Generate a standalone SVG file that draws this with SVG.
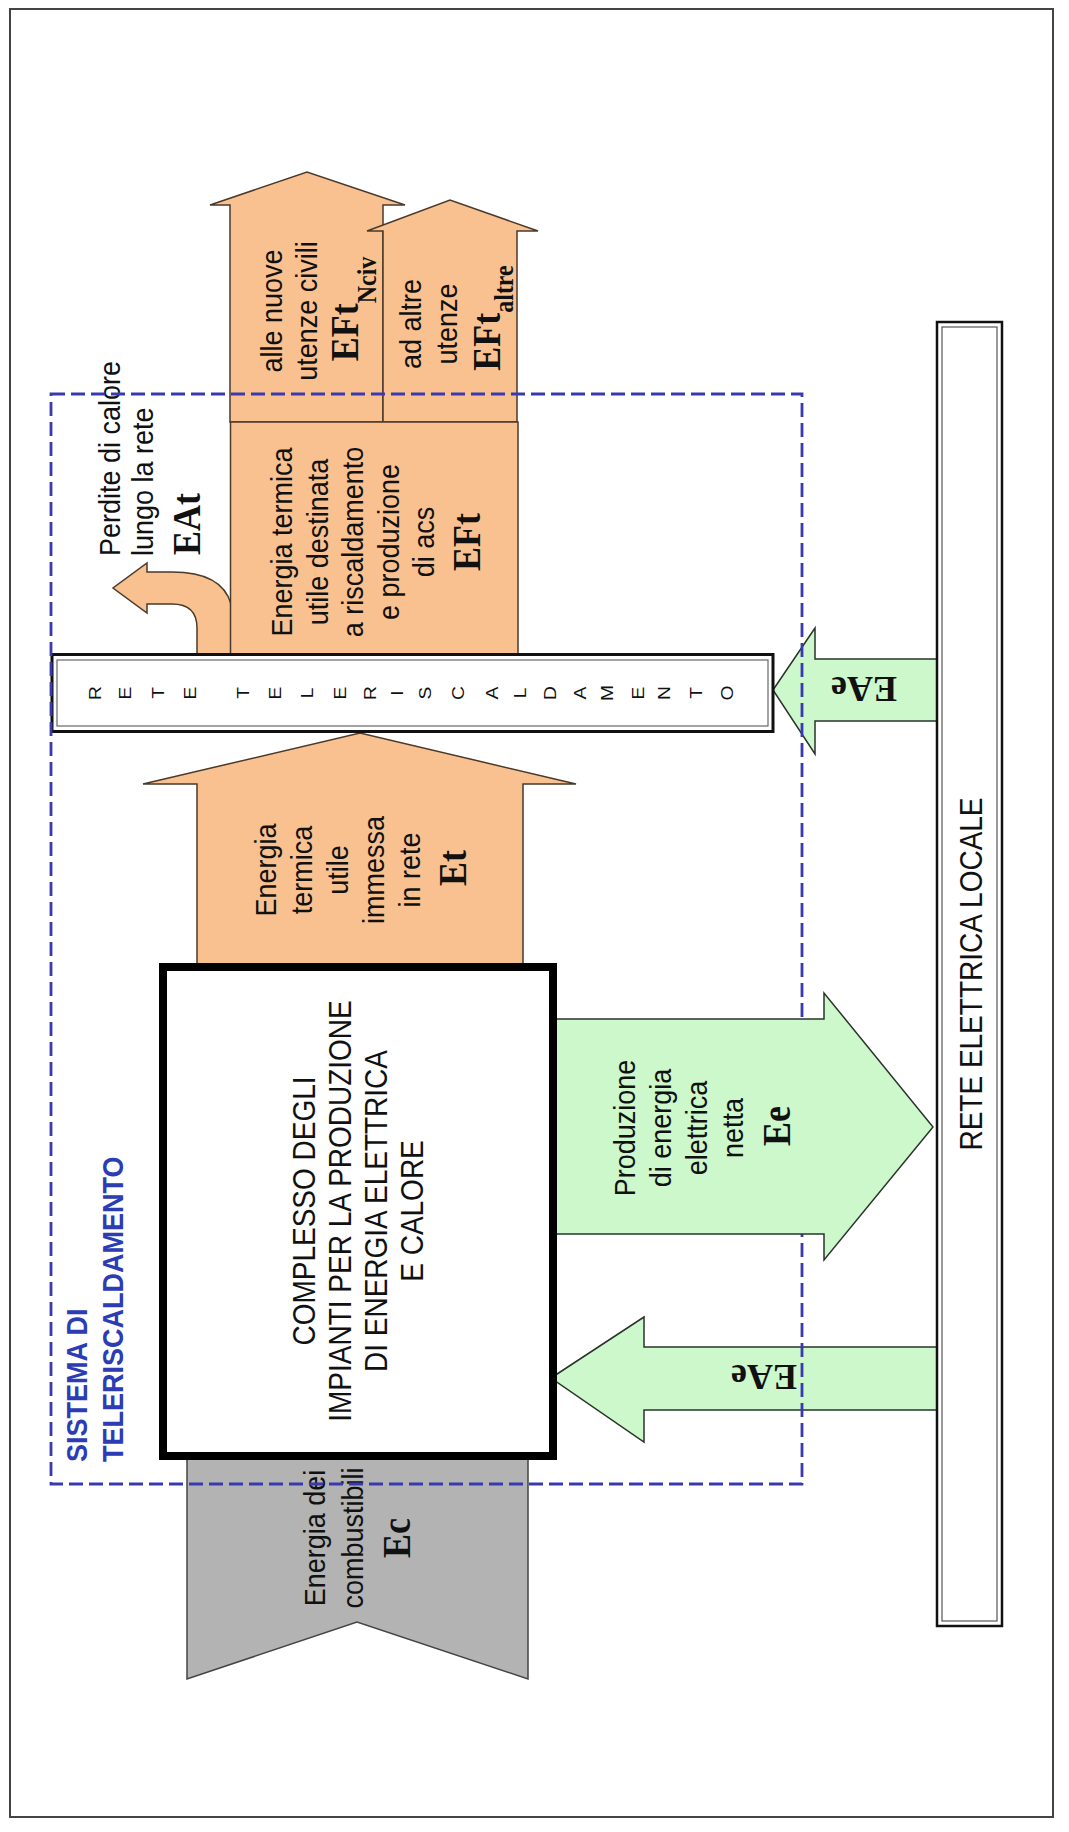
<svg xmlns="http://www.w3.org/2000/svg" width="1069" height="1832" viewBox="0 0 1069 1832">
<style>
.t{font-family:"Liberation Sans",Arial,sans-serif;font-size:27px;fill:#111}
.bx{font-family:"Liberation Sans",Arial,sans-serif;font-size:28px;fill:#111}
.b{font-family:"Liberation Serif","Times New Roman",serif;font-weight:bold;font-size:36px;fill:#111}
.sub{font-size:24px}
.sys{font-family:"Liberation Sans",Arial,sans-serif;font-weight:bold;font-size:27px;fill:#2b3cb4}
.lt{font-family:"Liberation Sans",Arial,sans-serif;font-size:16px;fill:#111}
.orange{fill:#fac190;stroke:#4a3a2a;stroke-width:1.5;stroke-linejoin:miter}
.green{fill:#ccf8cc;stroke:#2a332a;stroke-width:1.5}
.gray{fill:#b3b3b3;stroke:#444;stroke-width:1.5}
.dash{fill:none;stroke:#3a3ab0;stroke-width:2.8;stroke-dasharray:14 6}
</style>

<rect id="border" x="10" y="9" width="1043" height="1808" fill="#fff" stroke="#444" stroke-width="2"/>

<g id="connectors">
  <g id="flow-et">
    <path class="orange" d="M197,966 L197,784 L143,784 L360,733 L576,784 L523,784 L523,966 Z"/>
    <text class="t" text-anchor="middle" transform="translate(276,870) rotate(-90) scale(1,1.1)">Energia</text>
    <text class="t" text-anchor="middle" transform="translate(312,870) rotate(-90) scale(1,1.1)">termica</text>
    <text class="t" text-anchor="middle" transform="translate(348,870) rotate(-90) scale(1,1.1)">utile</text>
    <text class="t" text-anchor="middle" transform="translate(384,870) rotate(-90) scale(1,1.1)">immessa</text>
    <text class="t" text-anchor="middle" transform="translate(420,870) rotate(-90) scale(1,1.1)">in rete</text>
    <text class="b" text-anchor="middle" transform="translate(466,868) rotate(-90) scale(1,1.1)">Et</text>
  </g>
  <g id="flow-eft-nciv">
    <path class="orange" d="M230,422 L230,205 L210,205 L307,172 L405,205 L383,205 L383,422 Z"/>
    <text class="t" text-anchor="middle" transform="translate(282,311) rotate(-90) scale(1,1.1)">alle nuove</text>
    <text class="t" text-anchor="middle" transform="translate(317,311) rotate(-90) scale(1,1.1)">utenze civili</text>
    <text class="b" text-anchor="middle" transform="translate(358,309) rotate(-90) scale(1,1.1)">EFt<tspan class="sub" dy="16">Nciv</tspan></text>
  </g>
  <g id="flow-eft-altre">
    <path class="orange" d="M383,422 L383,231 L367,231 L450,200 L538,231 L517,231 L517,422 Z"/>
    <text class="t" text-anchor="middle" transform="translate(421,324) rotate(-90) scale(1,1.1)">ad altre</text>
    <text class="t" text-anchor="middle" transform="translate(457,324) rotate(-90) scale(1,1.1)">utenze</text>
    <text class="b" text-anchor="middle" transform="translate(500,318) rotate(-90) scale(1,1.1)">EFt<tspan class="sub" dy="12">altre</tspan></text>
  </g>
  <g id="flow-eat">
    <path class="orange" d="M197,656 L197,628 Q197,604 172,604 L147,604 L147,613 L113,588 L147,563 L147,572 L172,572 Q222,572 231,604 L231,656 Z"/>
    <text class="t" text-anchor="start" transform="translate(120,556) rotate(-90) scale(1,1.1)">Perdite di calore</text>
    <text class="t" text-anchor="start" transform="translate(153,556) rotate(-90) scale(1,1.1)">lungo la rete</text>
    <text class="b" text-anchor="start" transform="translate(200,555) rotate(-90) scale(1,1.1)">EAt</text>
  </g>
  <g id="flow-ec">
    <path class="gray" d="M187,1458 L187,1679 L357,1622 L528,1679 L528,1458 Z"/>
    <text class="t" text-anchor="middle" transform="translate(325,1538) rotate(-90) scale(1,1.1)">Energia dei</text>
    <text class="t" text-anchor="middle" transform="translate(363,1538) rotate(-90) scale(1,1.1)">combustibili</text>
    <text class="b" text-anchor="middle" transform="translate(410,1538) rotate(-90) scale(1,1.1)">Ec</text>
  </g>
  <g id="flow-eae-top">
    <path class="green" d="M773,690 L815,628 L815,659 L937,659 L937,721 L815,721 L815,754 Z"/>
    <text class="b" text-anchor="middle" transform="translate(864,677) rotate(180)">EAe</text>
  </g>
  <g id="flow-eae-bottom">
    <path class="green" d="M551,1378 L644,1317 L644,1347 L937,1347 L937,1410 L644,1410 L644,1442 Z"/>
    <text class="b" text-anchor="middle" transform="translate(764,1365) rotate(180)">EAe</text>
  </g>
</g>

<g id="eft-box">
  <rect class="orange" x="230.5" y="422" width="287.5" height="234"/>
  <text class="t" text-anchor="middle" transform="translate(292,542) rotate(-90) scale(1,1.1)">Energia termica</text>
  <text class="t" text-anchor="middle" transform="translate(327.5,542) rotate(-90) scale(1,1.1)">utile destinata</text>
  <text class="t" text-anchor="middle" transform="translate(363,542) rotate(-90) scale(1,1.1)">a riscaldamento</text>
  <text class="t" text-anchor="middle" transform="translate(398.5,542) rotate(-90) scale(1,1.1)">e produzione</text>
  <text class="t" text-anchor="middle" transform="translate(434,542) rotate(-90) scale(1,1.1)">di acs</text>
  <text class="b" text-anchor="middle" transform="translate(480,542) rotate(-90) scale(1,1.1)">EFt</text>
</g>

<g id="rete-teleriscaldamento">
  <rect x="52" y="654.5" width="721" height="77" fill="#fff" stroke="#111" stroke-width="3"/>
  <rect x="57" y="660" width="711" height="66" fill="none" stroke="#666" stroke-width="1.2"/>
  <g class="lt" text-anchor="middle">
    <text transform="translate(101,693) rotate(-90) scale(1.2,1)">R</text>
    <text transform="translate(131,693) rotate(-90) scale(1.2,1)">E</text>
    <text transform="translate(164,693) rotate(-90) scale(1.2,1)">T</text>
    <text transform="translate(196,693) rotate(-90) scale(1.2,1)">E</text>
    <text transform="translate(249,693) rotate(-90) scale(1.2,1)">T</text>
    <text transform="translate(281,693) rotate(-90) scale(1.2,1)">E</text>
    <text transform="translate(313,693) rotate(-90) scale(1.2,1)">L</text>
    <text transform="translate(346,693) rotate(-90) scale(1.2,1)">E</text>
    <text transform="translate(376,693) rotate(-90) scale(1.2,1)">R</text>
    <text transform="translate(403,693) rotate(-90) scale(1.2,1)">I</text>
    <text transform="translate(431,693) rotate(-90) scale(1.2,1)">S</text>
    <text transform="translate(464,693) rotate(-90) scale(1.2,1)">C</text>
    <text transform="translate(498,693) rotate(-90) scale(1.2,1)">A</text>
    <text transform="translate(526,693) rotate(-90) scale(1.2,1)">L</text>
    <text transform="translate(556,693) rotate(-90) scale(1.2,1)">D</text>
    <text transform="translate(586,693) rotate(-90) scale(1.2,1)">A</text>
    <text transform="translate(613,693) rotate(-90) scale(1.2,1)">M</text>
    <text transform="translate(644,693) rotate(-90) scale(1.2,1)">E</text>
    <text transform="translate(670,693) rotate(-90) scale(1.2,1)">N</text>
    <text transform="translate(702,693) rotate(-90) scale(1.2,1)">T</text>
    <text transform="translate(733,693) rotate(-90) scale(1.2,1)">O</text>
  </g>
</g>

<g id="sistema-teleriscaldamento">
  <rect class="dash" x="51" y="394" width="751" height="1090"/>
  <text class="sys" text-anchor="start" transform="translate(87,1462) rotate(-90) scale(1,1.1)">SISTEMA DI</text>
  <text class="sys" text-anchor="start" transform="translate(123,1462) rotate(-90) scale(1,1.1)">TELERISCALDAMENTO</text>
</g>

<g id="flow-ee">
  <path class="green" d="M556,1019 L824,1019 L824,993 L933,1127 L824,1260 L824,1234 L556,1234 Z"/>
  <text class="t" text-anchor="middle" transform="translate(635,1128) rotate(-90) scale(1,1.1)">Produzione</text>
  <text class="t" text-anchor="middle" transform="translate(671,1128) rotate(-90) scale(1,1.1)">di energia</text>
  <text class="t" text-anchor="middle" transform="translate(707,1128) rotate(-90) scale(1,1.1)">elettrica</text>
  <text class="t" text-anchor="middle" transform="translate(743,1128) rotate(-90) scale(1,1.1)">netta</text>
  <text class="b" text-anchor="middle" transform="translate(790,1126) rotate(-90) scale(1,1.1)">Ee</text>
</g>

<g id="complesso-impianti">
  <rect x="163" y="967" width="390" height="489" fill="#fff" stroke="#000" stroke-width="8"/>
  <text class="bx" text-anchor="middle" transform="translate(315,1211) rotate(-90) scale(1,1.1)">COMPLESSO DEGLI</text>
  <text class="bx" text-anchor="middle" transform="translate(351,1211) rotate(-90) scale(1,1.1)">IMPIANTI PER LA PRODUZIONE</text>
  <text class="bx" text-anchor="middle" transform="translate(387,1211) rotate(-90) scale(1,1.1)">DI ENERGIA ELETTRICA</text>
  <text class="bx" text-anchor="middle" transform="translate(423,1211) rotate(-90) scale(1,1.1)">E CALORE</text>
</g>

<g id="rete-elettrica-locale">
  <rect x="937" y="322" width="65" height="1304" fill="#fff" stroke="#111" stroke-width="2.5"/>
  <rect x="942" y="327" width="55" height="1294" fill="none" stroke="#555" stroke-width="1.2"/>
  <text class="bx" text-anchor="middle" transform="translate(982,974) rotate(-90) scale(1,1.1)">RETE ELETTRICA LOCALE</text>
</g>
</svg>
